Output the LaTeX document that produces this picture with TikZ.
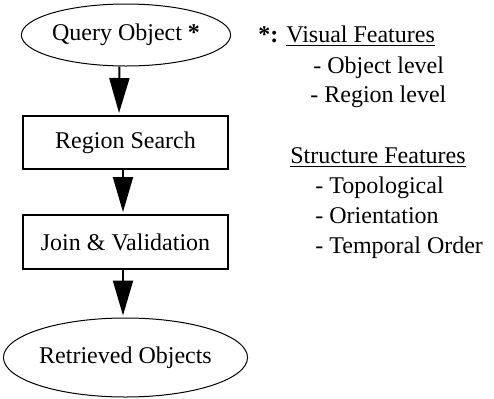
\documentclass[tikz,border=0pt]{standalone}
\usepackage{fontspec}
\setmainfont{Liberation Serif}
\usetikzlibrary{shapes.geometric, arrows.meta}

\tikzset{
  oval/.style={draw, ellipse, line width=.5pt, inner sep=0pt},
  stage/.style={draw, rectangle, line width=1pt, minimum width=102.5pt, minimum height=26.5pt, inner sep=0pt},
  flow/.style={line width=1pt, -{Triangle[length=17.5pt, width=10pt]}, shorten >=1pt},
  feat/.style={anchor=base west, inner sep=0pt}
}

\begin{document}
\begin{tikzpicture}[x=.5pt, y=-.5pt, font=\fontsize{12}{14}\selectfont]
\useasboundingbox (0,0) rectangle (494,398);

% retrieval steps
\node[oval, minimum width=104.5pt, minimum height=31pt] (query) at (126,35) {Query Object \textbf{*}};
\node[stage] (search) at (125.5,142.5) {Region Search};
\node[stage, minimum height=27pt] (join) at (125.5,242) {Join \& Validation};
\node[oval, minimum width=111.5pt, minimum height=39.5pt] (result) at (125.5,357.5) {Retrieved Objects};

\draw[flow] ([xshift=-3.25pt]query.south) -- ([xshift=-3.25pt]search.north);
\draw[flow] ([xshift=-1.25pt]search.south) -- ([xshift=-1.25pt]join.north);
\draw[flow] ([xshift=-1.25pt]join.south) -- ([xshift=-1.25pt]result.north);

% feature list
\node[feat] (visual) at (258,42) {\textbf{*:} \underline{Visual Features}};
\node[feat] (objlvl) at (313,73) {- Object level};
\node[feat] (reglvl) at (310,102) {- Region level};
\node[feat] (struct) at (290,163) {\underline{Structure Features}};
\node[feat] (topo) at (315,193) {- Topological};
\node[feat] (orient) at (315,223) {- Orientation};
\node[feat] (tempo) at (315,253) {- Temporal Order};
\end{tikzpicture}
\end{document}
